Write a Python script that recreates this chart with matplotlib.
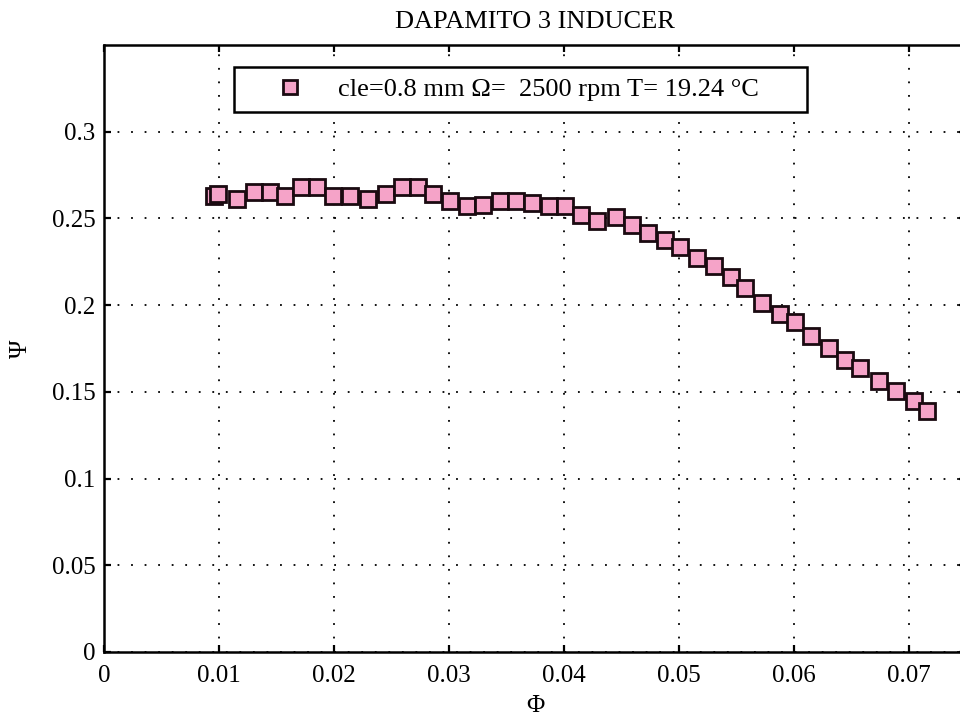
import matplotlib
matplotlib.use("Agg")
import matplotlib.pyplot as plt
from matplotlib.patches import Rectangle

phi = [0.0096, 0.0099, 0.01157, 0.01309, 0.01443, 0.01578, 0.01717, 0.01852, 0.0199,
       0.0214, 0.0230, 0.0245, 0.02596, 0.02735, 0.0286, 0.03009, 0.03157, 0.0330,
       0.03443, 0.03587, 0.03726, 0.03874, 0.0401, 0.04148, 0.04287, 0.04457, 0.04596,
       0.04735, 0.04878, 0.05013, 0.0516, 0.05304, 0.05452, 0.05574, 0.05726, 0.05878,
       0.06013, 0.06148, 0.06309, 0.06443, 0.06574, 0.06739, 0.06887, 0.07048, 0.07165]
psi = [0.263, 0.264, 0.261, 0.265, 0.265, 0.263, 0.268, 0.268, 0.263,
       0.263, 0.261, 0.264, 0.268, 0.268, 0.264, 0.260, 0.257, 0.2575,
       0.260, 0.260, 0.259, 0.257, 0.257, 0.252, 0.2486, 0.2506, 0.246,
       0.2417, 0.2374, 0.2333, 0.2273, 0.2224, 0.2164, 0.2098, 0.2011, 0.1948,
       0.190, 0.1822, 0.1753, 0.1684, 0.1638, 0.1560, 0.1506, 0.1445, 0.1391]

xticks = [0, 0.01, 0.02, 0.03, 0.04, 0.05, 0.06, 0.07]
xticklabels = ["0", "0.01", "0.02", "0.03", "0.04", "0.05", "0.06", "0.07"]
yticks = [0, 0.05, 0.1, 0.15, 0.2, 0.25, 0.3]
yticklabels = ["0", "0.05", "0.1", "0.15", "0.2", "0.25", "0.3"]

title = "DAPAMITO 3 INDUCER"
legend_label = "cle=0.8 mm \u03a9=  2500 rpm T= 19.24 \u00b0C"

plt.rcParams['font.family'] = ['Liberation Serif', 'DejaVu Serif']

W, H = 960, 718
fig = plt.figure(figsize=(W / 100, H / 100), dpi=100)
left, right, top, bottom = 104, 966, 45, 652
ax = fig.add_axes([left / W, 1 - bottom / H, (right - left) / W, (bottom - top) / H])

def ax_x(px):
    return (px - left) / (right - left)

def ax_y(py):
    return 1 - (py - top) / (bottom - top)

ax.plot(phi, psi, linestyle='none', marker='s', markersize=12,
        markerfacecolor='#F5A3C8', markeredgecolor='#1a0a10', markeredgewidth=2.0,
        label=legend_label, zorder=3)

ax.set_xlim(0, 0.075)
ax.set_ylim(0, 0.35)
ax.set_xticks(xticks)
ax.set_xticklabels(xticklabels)
ax.set_yticks(yticks)
ax.set_yticklabels(yticklabels)
ax.tick_params(direction='in', length=5, width=1.6, labelsize=18, top=True, right=True,
               colors='black')
ax.tick_params(axis='x', pad=9)
ax.tick_params(axis='y', pad=6)
for s in ax.spines.values():
    s.set_linewidth(1.8)

ax.grid(True, linestyle=(0, (1, 6.5)), color='black', linewidth=1.3)

ax.set_xlabel("\u03a6", fontsize=18, labelpad=6)
ax.set_ylabel("\u03a8", fontsize=18, labelpad=14)
fig.text(535 / W, 1 - 22 / H, title, ha='center', va='center', fontsize=19)

# legend frame
box = Rectangle((ax_x(234), ax_y(112)), ax_x(807) - ax_x(234), ax_y(67) - ax_y(112),
                transform=ax.transAxes, facecolor='white', edgecolor='black',
                linewidth=1.8, zorder=4)
ax.add_patch(box)

fs = 19
leg = ax.legend(loc='center left', bbox_to_anchor=(ax_x(269.5), ax_y(89.5)),
                fontsize=fs, frameon=False, borderpad=0, borderaxespad=0,
                handlelength=40 / (fs * 100 / 72), handletextpad=28.5 / (fs * 100 / 72),
                markerscale=0.8)
leg.set_zorder(5)

fig.savefig("out.png", dpi=100)
